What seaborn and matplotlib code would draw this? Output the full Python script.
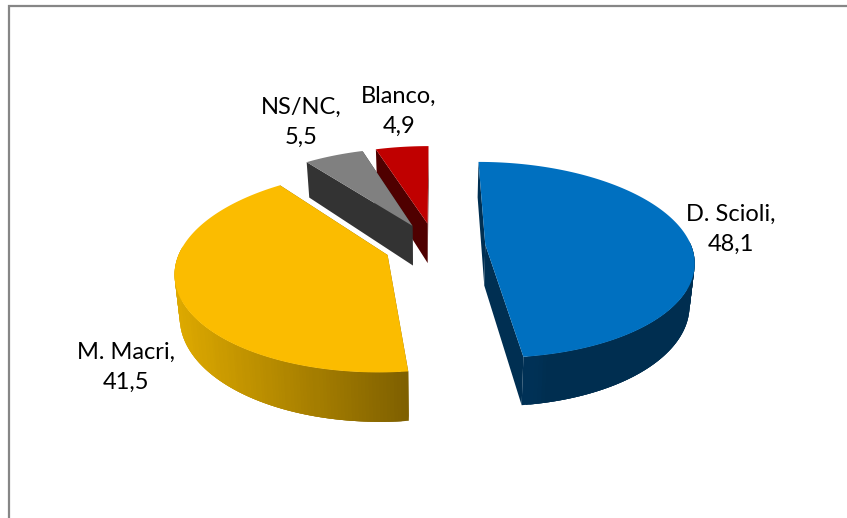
import numpy as np
import matplotlib
matplotlib.use('Agg')
import matplotlib.pyplot as plt
import seaborn as sns

names = ['D. Scioli', 'M. Macri', 'NS/NC', 'Blanco']
values = [48.1, 41.5, 5.5, 4.9]

top_colors = ['#0070C0', '#FBBC00', '#808080', '#C00000']
# rim gradient per slice, left to right
rim_colors = [['#003C69', '#002E50', '#002E50', '#002E50'], ['#DDA900', '#7F6000'], ['#333333', '#333333'], ['#4F0000', '#4F0000']]
wall_colors = ['#002F52', '#7F6000', '#333333', '#4F0000']
label_pos = [(731, 229), (126, 367), (301, 122), (399, 111)]

# pie geometry in picture pixels
CX, CY = 435, 246
RX, RY = 206, 96
PERSP = 0.156
DEPTH = 41
EXPLODE = 0.245

sns.set_theme(style='white')
plt.rcParams['font.family'] = ['Lato', 'DejaVu Sans']


def project(ox, oy, ang, r=1.0, lower=False):
    # ang is clockwise from the top, ox/oy the exploded offset
    gx = ox + r * np.sin(ang)
    gy = oy + r * np.cos(ang)
    s = 1 / (1 + PERSP * gy)
    x = CX + RX * gx * s
    y = CY - RY * gy * s
    if lower:
        x = CX + (x - CX) * 0.98
        y = y + DEPTH * s
    return x, y


fig = plt.figure(figsize=(8.47, 5.18), dpi=100)
ax = fig.add_axes([0, 0, 1, 1])
ax.set_xlim(0, 847)
ax.set_ylim(518, 0)
ax.axis('off')

# chart frame
ax.plot([9, 9, 847], [518, 6, 6], color='#868686', lw=1.6, solid_capstyle='butt', solid_joinstyle='miter')

edges = np.cumsum([0] + values) / np.sum(values) * 2 * np.pi

# back slices first
for i in [3, 2, 1, 0]:
    a0, a1 = edges[i], edges[i + 1]
    mid = (a0 + a1) / 2
    ox, oy = EXPLODE * np.sin(mid), EXPLODE * np.cos(mid)
    ang = np.linspace(a0, a1, 180)

    # cut faces
    for a in (a0, a1):
        top = [project(ox, oy, a, 0), project(ox, oy, a)]
        low = [project(ox, oy, a, 1, True), project(ox, oy, a, 0, True)]
        xs, ys = zip(*(top + low))
        ax.fill(xs, ys, color=wall_colors[i], lw=0)

    # outer rim, only the part facing us, shaded across its width
    tx, ty = project(ox, oy, ang)
    bx, by = project(ox, oy, ang, 1, True)
    shades = sns.blend_palette(rim_colors[i], 64)
    lo, hi = tx.min(), tx.max()
    for j in range(len(ang) - 3):
        if np.cos(ang[j]) > 0.05:
            continue
        k = int((tx[j] - lo) / (hi - lo) * 63)
        # quads overlap a little so no seams show
        ax.fill([tx[j], tx[j + 3], bx[j + 3], bx[j]], [ty[j], ty[j + 3], by[j + 3], by[j]],
                color=shades[k], lw=0)

    # top face
    ax_, ay_ = project(ox, oy, 0, 0)
    ax.fill(np.r_[ax_, tx], np.r_[ay_, ty], color=top_colors[i], lw=0)

for name, val, pos in zip(names, values, label_pos):
    label = name + ',\n' + str(val).replace('.', ',')
    ax.text(pos[0], pos[1], label, ha='center', va='center', fontsize=17, color='black', linespacing=1.52)

fig.savefig('out.png', dpi=100)
